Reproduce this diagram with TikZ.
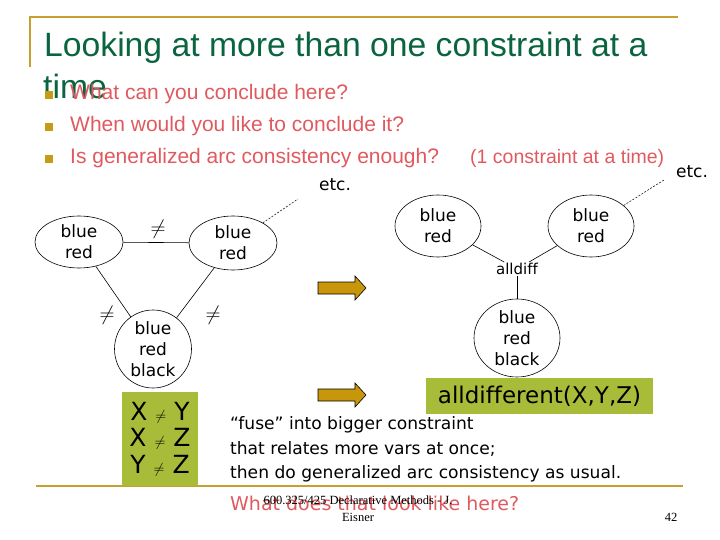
\documentclass[tikz,border=0pt]{standalone}
\usepackage{fontspec}
\setmainfont{Liberation Sans}
\newfontfamily\comic[Ligatures=NoCommon]{DejaVu Sans}
\newfontfamily\tms{Liberation Serif}
\usetikzlibrary{shapes.geometric}
\definecolor{titlegreen}{HTML}{0B6440}
\definecolor{bulletred}{HTML}{E0595E}
\definecolor{goldline}{HTML}{C8A030}
\definecolor{goldsq}{HTML}{C89B14}
\definecolor{boxgreen}{HTML}{A8BC3A}
\definecolor{arrowgold}{HTML}{C8960A}
\tikzset{
  varnode/.style={ellipse, draw=black, line width=0.6pt, inner sep=0pt, align=center,
     font=\comic\fontsize{17}{21}\selectfont},
  edgeline/.style={draw=black, line width=0.6pt},
  etcline/.style={draw=black, line width=0.5pt, dashed, dash pattern=on 2pt off 1.5pt},
  neqlab/.style={inner sep=0pt, font=\fontsize{20}{20}\selectfont},
  comictext/.style={inner sep=0pt, anchor=base west, font=\comic\fontsize{17.1}{20}\selectfont},
  bullettext/.style={inner sep=0pt, anchor=base west, text=bulletred, font=\fontsize{21}{24}\selectfont},
  bulletsq/.style={fill=goldsq, minimum size=8pt, inner sep=0pt},
  greenbox/.style={fill=boxgreen, inner sep=0pt},
  goldarrow/.pic={\draw[line width=0.6pt, fill=arrowgold] (0,-6) -- (37,-6) -- (37,-12) -- (48,0) -- (37,12) -- (37,6) -- (0,6) -- cycle;}
}
\begin{document}
\begin{tikzpicture}[x=1pt, y=-1pt]
\useasboundingbox (0,0) rectangle (720,540);
% frame lines
\draw[goldline, line width=2.5pt] (30,67) -- (30,17) -- (678,17);
\draw[goldline, line width=2.5pt] (36,486) -- (683,486);
% title
\node[inner sep=0pt, anchor=base west, text=titlegreen, font=\fontsize{33.7}{38}\selectfont] (title) at (44,57) {Looking at more than one constraint at a};
\node[inner sep=0pt, anchor=base west, text=titlegreen, font=\fontsize{33.7}{38}\selectfont] (title2) at (43,99) {time};
% bullets
\node[bulletsq] (b1) at (48.5,95) {};
\node[bulletsq] (b2) at (48.5,127) {};
\node[bulletsq] (b3) at (48.5,159) {};
\node[bullettext] (t1) at (70,100) {What can you conclude here?};
\node[bullettext] (t2) at (70,132) {When would you like to conclude it?};
\node[bullettext] (t3) at (70,164) {Is generalized arc consistency enough?};
\node[inner sep=0pt, anchor=base west, text=bulletred, font=\fontsize{19.5}{22}\selectfont] (t3b) at (470,164) {(1 constraint at a time)};
% left graph
\node[varnode, minimum width=88pt, minimum height=52pt] (A) at (79,242) {blue\\red};
\node[varnode, minimum width=88pt, minimum height=54pt] (B) at (233,243) {blue\\red};
\node[varnode, minimum width=77pt, minimum height=78pt] (C) at (153,349) {blue\\red\\black};
\draw[edgeline] (A) -- (B);
\draw[edgeline] (A) -- (C);
\draw[edgeline] (B) -- (C);
\node[neqlab] (nab) at (158,229) {$\neq$};
\node[neqlab] (nac) at (107,315) {$\neq$};
\node[neqlab] (nbc) at (213,315) {$\neq$};
\coordinate (e1) at (298,199);
\draw[etcline] (B) -- (e1);
\node[inner sep=0pt, font=\comic\fontsize{17}{20}\selectfont] (etc1) at (335,185) {etc.};
% constraint box
\node[greenbox, minimum width=76pt, minimum height=94pt] (cbox) at (160,439) {};
\node[inner sep=0pt, align=center, font=\comic\fontsize{25}{26.5}\selectfont] (ctext) at (160,439)
  {X {\fontsize{15}{15}\selectfont$\neq$} Y\\X {\fontsize{15}{15}\selectfont$\neq$} Z\\Y {\fontsize{15}{15}\selectfont$\neq$} Z};
% arrows
\pic at (318,288) {goldarrow};
\pic at (318,395) {goldarrow};
% right graph
\node[varnode, minimum width=86pt, minimum height=62pt] (D) at (438,226) {blue\\red};
\node[varnode, minimum width=86pt, minimum height=62pt] (E) at (591,226) {blue\\red};
\node[inner sep=1pt, font=\comic\fontsize{15}{18}\selectfont] (ad) at (517,269) {alldiff};
\node[varnode, minimum width=86pt, minimum height=78pt] (F) at (517,338) {blue\\red\\black};
\draw[edgeline] (D) -- (ad);
\draw[edgeline] (E) -- (ad);
\draw[edgeline] (ad) -- (F);
\coordinate (e2) at (664,180);
\draw[etcline] (E) -- (e2);
\node[inner sep=0pt, font=\comic\fontsize{17}{20}\selectfont] (etc2) at (692,172) {etc.};
% alldifferent box
\node[greenbox, minimum width=227pt, minimum height=36pt, font=\comic\fontsize{23}{26}\selectfont] (adbox) at (539.5,396) {alldifferent(X,Y,Z)};
% explanation
\node[comictext] (f1) at (230,429) {“fuse” into bigger constraint};
\node[comictext] (f2) at (230,454) {that relates more vars at once;};
\node[comictext] (f3) at (230,478) {then do generalized arc consistency as usual.};
\node[comictext, text=bulletred, font=\comic\fontsize{19}{22}\selectfont] (q) at (230,510) {What does that look like here?};
% footer
\node[inner sep=0pt, align=center, font=\tms\fontsize{12.5}{17}\selectfont] (foot) at (358,509) {600.325/425 Declarative Methods - J.\\Eisner};
\node[inner sep=0pt, anchor=base, font=\tms\fontsize{12.5}{15}\selectfont] (pg) at (671,521) {42};
\end{tikzpicture}
\end{document}
